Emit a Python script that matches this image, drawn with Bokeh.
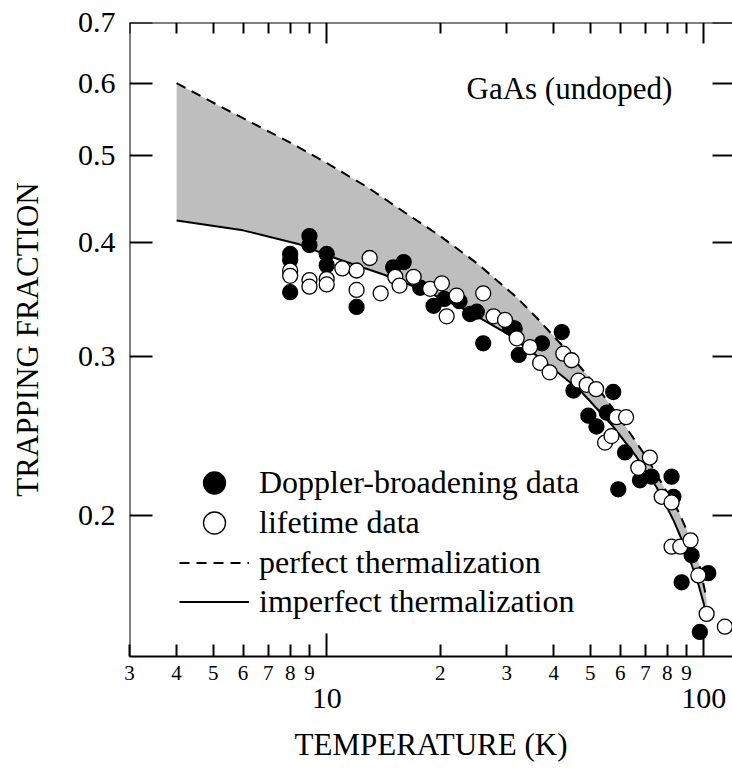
from bokeh.plotting import figure
from bokeh.models import (Range1d, FixedTicker, LogAxis, Legend, LegendItem, Label,
                          PrintfTickFormatter, CustomJSTickFormatter)
from bokeh.embed import file_html
from bokeh.resources import INLINE

FONT = "Liberation Serif"

# ---------------- data ----------------
doppler_T = [8.0, 8.0, 8.0, 9.0, 9.0, 10.0, 10.0, 12.0, 15.0, 16.0, 17.7, 19.2, 20.5, 22.5,
             24.0, 25.0, 26.0, 30.6, 31.5, 32.3, 37.2, 42.0, 45.1, 49.4, 51.9, 55.3, 57.5,
             59.3, 61.8, 67.7, 72.7, 82.1, 83.0, 87.3, 92.8, 97.6, 102.7]
doppler_F = [0.389, 0.383, 0.353, 0.407, 0.398, 0.389, 0.378, 0.340, 0.376, 0.381, 0.357, 0.341,
             0.347, 0.345, 0.334, 0.336, 0.310, 0.323, 0.322, 0.301, 0.310, 0.319, 0.275, 0.258,
             0.251, 0.260, 0.274, 0.214, 0.235, 0.219, 0.221, 0.221, 0.210, 0.169, 0.181, 0.149,
             0.173]

lifetime_T = [8.0, 8.0, 9.0, 9.0, 10.0, 10.0, 11.0, 12.0, 12.0, 13.0, 13.9, 15.2, 15.6, 17.0,
              18.8, 20.2, 20.8, 22.1, 26.0, 27.7, 29.7, 31.9, 34.6, 36.8, 39.0, 42.4, 44.6,
              46.5, 48.9, 51.8, 54.7, 56.9, 58.7, 62.2, 67.0, 71.9, 77.3, 82.1, 82.1, 86.6,
              92.2, 96.7, 101.7, 113.7]
lifetime_F = [0.373, 0.368, 0.364, 0.358, 0.365, 0.360, 0.375, 0.373, 0.355, 0.385, 0.352, 0.367,
              0.359, 0.367, 0.356, 0.361, 0.332, 0.350, 0.352, 0.332, 0.329, 0.314, 0.307, 0.295,
              0.288, 0.302, 0.297, 0.282, 0.279, 0.276, 0.241, 0.245, 0.257, 0.257, 0.226, 0.232,
              0.210, 0.207, 0.185, 0.185, 0.188, 0.172, 0.156, 0.151]

perfect_T = [4, 5, 6, 8, 10, 12.8, 16, 20, 25, 32, 37, 42.5, 48, 53, 60, 70.5, 78, 86, 92,
             97.5, 101.7]
perfect_F = [0.600, 0.571, 0.549, 0.516, 0.490, 0.461, 0.433, 0.407, 0.380, 0.348, 0.327,
             0.307, 0.289, 0.275, 0.256, 0.232, 0.216, 0.2016, 0.189, 0.176, 0.162]

imperfect_T = [4, 6, 8.4, 10.7, 14.2, 18, 23.5, 30, 37, 47, 57.5, 66, 75, 83, 90, 96, 100, 102]
imperfect_F = [0.4235, 0.413, 0.399, 0.384, 0.369, 0.355, 0.337, 0.318, 0.298, 0.275, 0.251,
               0.233, 0.215, 0.198, 0.183, 0.170, 0.160, 0.153]

y_ticks = [0.2, 0.3, 0.4, 0.5, 0.6, 0.7]
x_minor_ticks = [3, 4, 5, 6, 7, 8, 9, 20, 30, 40, 50, 60, 70, 80, 90]
x_major_ticks = [10, 100]

legend_labels = ["Doppler-broadening data", "lifetime data",
                 "perfect thermalization", "imperfect thermalization"]

X_START, X_END = 3, 119.1
Y_START, Y_END = 0.14, 0.7

# ---------------- figure ----------------
p = figure(width=732, height=775, x_axis_type="log", y_axis_type="log",
           x_range=Range1d(X_START, X_END), y_range=Range1d(Y_START, Y_END),
           output_backend="svg", toolbar_location=None,
           x_axis_location=None, y_axis_location=None,
           min_border_left=129, min_border_right=0, min_border_top=22, min_border_bottom=119)
p.outline_line_color = None
p.background_fill_color = "white"
p.border_fill_color = "white"
p.xgrid.visible = False
p.ygrid.visible = False

# band between curves
p.patch(perfect_T + imperfect_T[::-1], perfect_F + imperfect_F[::-1],
        fill_color="#bebebe", line_color=None)

r_perf = p.line(perfect_T, perfect_F, line_color="black", line_width=2, line_dash="10 7")
r_imp = p.line(imperfect_T, imperfect_F, line_color="black", line_width=2)

r_dop = p.scatter(doppler_T, doppler_F, size=15, marker="circle",
                  fill_color="black", line_color="black", line_width=1.3)
r_life = p.scatter(lifetime_T, lifetime_F, size=15, marker="circle",
                   fill_color="white", line_color="black", line_width=1.3)

# ---------------- axes ----------------
common = dict(axis_line_width=2, axis_line_color="black",
              major_tick_line_width=2, minor_tick_line_width=2,
              major_tick_line_color="black", minor_tick_line_color="black",
              major_tick_out=0, minor_tick_out=0,
              major_label_text_color="black", axis_label_text_color="black")
blank = CustomJSTickFormatter(code="return '';")

# left: rule + inward ticks pinned to the frame edge
yax_ticks = LogAxis(ticker=FixedTicker(ticks=y_ticks, minor_ticks=[]), formatter=blank,
                    fixed_location=X_START, major_tick_in=23, minor_tick_in=0,
                    major_label_text_font_size="1px", major_label_standoff=0, **common)
p.add_layout(yax_ticks, "left")

# left: tick labels and title
yax = LogAxis(ticker=FixedTicker(ticks=y_ticks, minor_ticks=[]),
              formatter=PrintfTickFormatter(format="%.1f"),
              major_tick_in=0, minor_tick_in=0,
              major_label_text_font=FONT, major_label_text_font_size="30px",
              major_label_standoff=14,
              axis_label="TRAPPING FRACTION", axis_label_text_font=FONT,
              axis_label_text_font_size="31px", axis_label_text_font_style="normal",
              axis_label_standoff=30, **common)
yax.axis_line_color = None
yax.major_tick_line_color = None
yax.minor_tick_line_color = None
p.add_layout(yax, "left")

yax_r = LogAxis(ticker=FixedTicker(ticks=y_ticks, minor_ticks=[]), formatter=blank,
                fixed_location=X_END, major_tick_in=20, minor_tick_in=0,
                major_label_text_font_size="1px", major_label_standoff=0, **common)
yax_r.axis_line_color = None
p.add_layout(yax_r, "right")

xax_top = LogAxis(ticker=FixedTicker(ticks=x_major_ticks, minor_ticks=x_minor_ticks),
                  formatter=blank, fixed_location=Y_END,
                  major_tick_in=21, minor_tick_in=11,
                  major_label_text_font_size="1px", major_label_standoff=0, **common)
p.add_layout(xax_top, "above")

xax_small = LogAxis(ticker=FixedTicker(ticks=x_minor_ticks, minor_ticks=x_major_ticks),
                    formatter=CustomJSTickFormatter(
                        code="return String(tick >= 10 ? Math.round(tick / 10) : Math.round(tick));"),
                    major_tick_in=12, minor_tick_in=23,
                    major_label_text_font=FONT, major_label_text_font_size="21px",
                    major_label_standoff=9, **common)
p.add_layout(xax_small, "below")

xax_big = LogAxis(ticker=FixedTicker(ticks=x_major_ticks, minor_ticks=[]),
                  formatter=PrintfTickFormatter(format="%d"),
                  major_tick_in=0, minor_tick_in=0,
                  major_label_text_font=FONT, major_label_text_font_size="30px",
                  major_label_standoff=6,
                  axis_label="TEMPERATURE (K)", axis_label_text_font=FONT,
                  axis_label_text_font_size="31px", axis_label_text_font_style="normal",
                  axis_label_standoff=16, **common)
xax_big.axis_line_color = None
xax_big.major_tick_line_color = None
xax_big.minor_tick_line_color = None
p.add_layout(xax_big, "below")

# ---------------- annotation & legend ----------------
p.add_layout(Label(x=44, y=0.592, text="GaAs (undoped)", text_align="center",
                   text_baseline="middle", text_font=FONT, text_font_size="31px",
                   text_color="black"))

legend_style = dict(glyph_width=70, glyph_height=55, spacing=0, label_standoff=10,
                    padding=0, margin=0, label_text_font=FONT, label_text_font_size="32px",
                    label_text_color="black", border_line_color=None,
                    background_fill_alpha=0)
for lab, rend, off in zip(legend_labels, [r_dop, r_life, r_perf, r_imp], [146, 106, 66, 27]):
    p.add_layout(Legend(items=[LegendItem(label=lab, renderers=[rend])],
                        location=(50, off), **legend_style))

open("out.html", "w").write(file_html(p, INLINE))
